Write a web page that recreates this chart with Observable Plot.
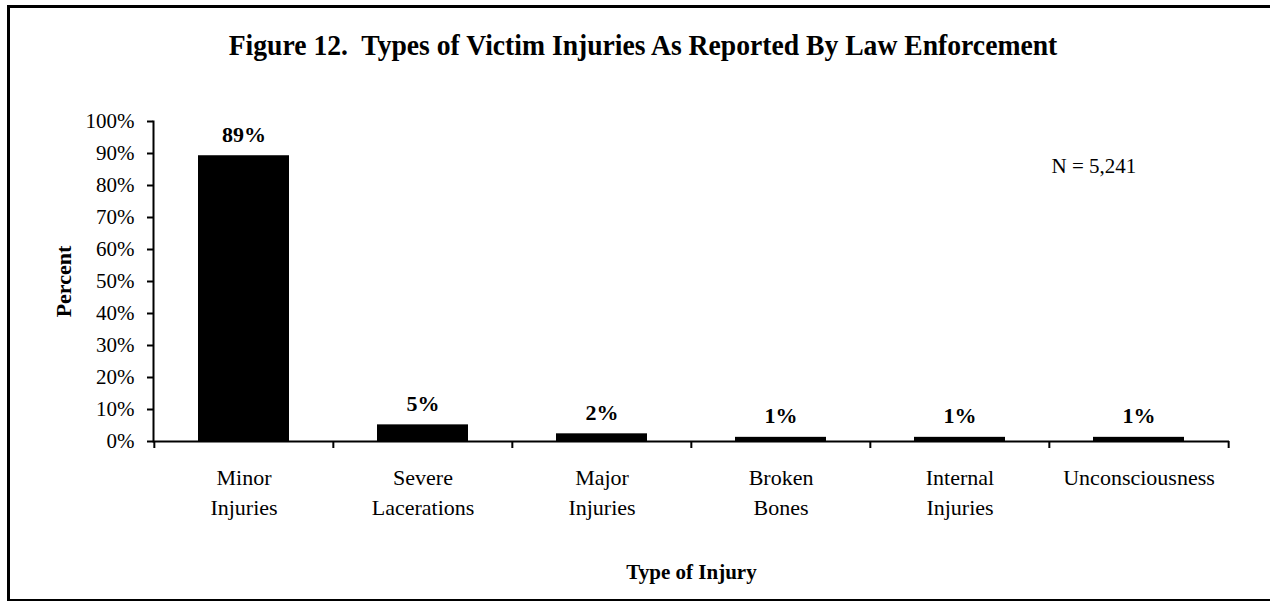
<!DOCTYPE html>
<html>
<head>
<meta charset="utf-8">
<script src="https://cdn.jsdelivr.net/npm/d3@7"></script>
<script src="https://cdn.jsdelivr.net/npm/@observablehq/plot@0.6"></script>
<style>
  html, body { margin: 0; padding: 0; background: #fff; }
  #wrap { position: relative; width: 1270px; height: 601px; overflow: hidden; background: #fff; }
  #border { position: absolute; left: 7px; top: 5px; width: 1300px; height: 591px;
            border-top: 3px solid #000; border-left: 3px solid #000; border-bottom: 2px solid #000;
            pointer-events: none; z-index: 2; }
  #title { position: absolute; left: 0; top: 31px; width: 1286px; text-align: center;
           font-family: "Liberation Serif", "Times New Roman", serif; font-weight: bold;
           font-size: 29px; line-height: 29px; white-space: pre; color: #000;
           transform: scaleX(0.953); transform-origin: 643px 50%; }
  #chart { position: absolute; left: 0; top: 80px; }
</style>
</head>
<body>
<div id="wrap">
  <div id="border"></div>
  <div id="title"></div>
  <div id="chart"></div>
</div>
<script>
const titleText = "Figure 12.  Types of Victim Injuries As Reported By Law Enforcement";
const categories = ["Minor\nInjuries", "Severe\nLacerations", "Major\nInjuries", "Broken\nBones", "Internal\nInjuries", "Unconsciousness"];
const percents = [89.3, 5.2, 2.4, 1.3, 1.3, 1.3];
const yTicks = [0, 10, 20, 30, 40, 50, 60, 70, 80, 90, 100];
const xLabel = "Type of Injury";
const yLabel = "Percent";
const note = "N = 5,241";

document.getElementById("title").textContent = titleText;

const data = categories.map((c, i) => ({cat: c, pct: percents[i]}));

const W = 1270, H = 521, mL = 153, mR = 41, mT = 41, mB = 160;
const step = (W - mL - mR) / categories.length;

const chart = Plot.plot({
  width: W,
  height: H,
  marginLeft: mL,
  marginRight: mR,
  marginTop: mT,
  marginBottom: mB,
  style: {fontFamily: "'Liberation Serif', 'Times New Roman', serif", color: "#000", background: "#fff", overflow: "visible"},
  x: {domain: categories, paddingInner: 0.49, paddingOuter: 0.245},
  y: {domain: [0, 100]},
  marks: [
    Plot.barY(data, {x: "cat", y: "pct", fill: "#000"}),
    Plot.text(data, {x: "cat", y: "pct", text: d => Math.round(d.pct) + "%", dy: -14, lineAnchor: "bottom", fontWeight: "bold", fontSize: 22, fill: "#000"}),
    Plot.ruleY([0], {stroke: "#000", strokeWidth: 2}),
    Plot.frame({anchor: "left", stroke: "#000", strokeWidth: 2}),
    Plot.axisY({ticks: yTicks, tickFormat: d => d + "%", tickSize: 6, tickPadding: 13, fontSize: 21, strokeWidth: 2, label: null}),
    Plot.axisX({tickSize: 0, tickPadding: 22, fontSize: 22, lineHeight: 1.36, label: null}),
    Plot.axisX({tickSize: 7, tickFormat: null, dx: -step / 2, strokeWidth: 2, label: null}),
    Plot.axisX({ticks: [categories[categories.length - 1]], tickSize: 7, tickFormat: null, dx: step / 2, strokeWidth: 2, label: null}),
    Plot.text([xLabel], {frameAnchor: "bottom", dy: 131, lineAnchor: "middle", fontWeight: "bold", fontSize: 21, fill: "#000"}),
    Plot.text([yLabel], {frameAnchor: "left", dx: -90, rotate: -90, textAnchor: "middle", lineAnchor: "middle", fontWeight: "bold", fontSize: 22, fill: "#000"}),
    Plot.text([note], {frameAnchor: "top-right", textAnchor: "start", dx: -178, dy: 45, lineAnchor: "middle", fontSize: 21, fill: "#000"})
  ]
});
document.getElementById("chart").appendChild(chart);
</script>
</body>
</html>
